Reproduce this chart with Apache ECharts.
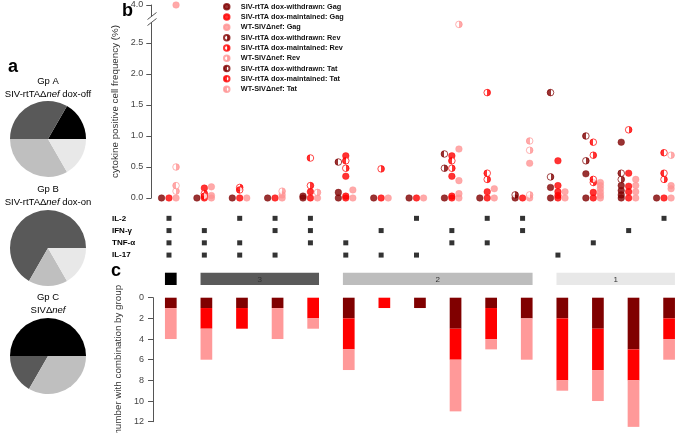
<!DOCTYPE html>
<html><head><meta charset="utf-8">
<script src="https://cdn.jsdelivr.net/npm/echarts@6/dist/echarts.min.js"></script>
<style>html,body{margin:0;padding:0;background:#fff}#c{width:685px;height:433px}</style>
</head><body><div id="c"></div>
<script>
const FONT = '"Liberation Sans", Arial, Helvetica, sans-serif';

// ---------- Panel a : pies ----------
const pieLevels = ['4 functions', '3 functions', '2 functions', '1 function'];
const pieColors = ['#000000', '#595959', '#bfbfbf', '#e8e8e8'];
const pieGpA = [1, 2, 2, 1];
const pieGpB = [0, 4, 1, 1];
const pieGpC = [3, 1, 2, 0];

// ---------- Panel b : cytokine combinations ----------
const cytokines = ['IL-2', 'IFN-γ', 'TNF-α', 'IL-17'];
const rowIL2  = [1,0,1,1,1,0,0,1,0,1,1,0,0,0,1];
const rowIFNg = [1,1,0,1,1,0,1,0,1,0,1,0,0,1,0];
const rowTNFa = [1,1,1,0,1,1,0,0,1,1,0,0,1,0,0];
const rowIL17 = [1,1,1,1,0,1,1,1,0,0,0,1,0,0,0];

// frequencies (%) per combination (15 columns)
const withdrawnGag  = [[0],[0],[0],[0],[0,0.03],[0,0.09],[0],[0],[0],[0],[0],[0,0.17],[0,0.39],[0,0.05,0.12,0.2,0.9],[0]];
const maintainedGag = [[0],[0,0.16],[0],[0],[0,0.1],[0,0.03,0.35,0.68],[0],[0],[0,0.03,0.35,0.68],[0,0.1],[0],[0,0.04,0.1,0.2,0.6],[0,0.09],[0,0.1,0.19,0.4],[0]];
const wtGag         = [[0,4.0],[0,0.04,0.18],[0],[0,0.05],[0],[0,0.13],[0],[0],[0,0.07,0.28,0.79],[0,0.15],[0,0.56],[0,0.1],[0,0.04,0.09,0.15,0.2,0.25],[0,0.1,0.2,0.3],[0,0.15,0.2]];
const withdrawnRev  = [[],[],[],[],[],[],[],[],[0.48],[],[0.05],[0.34],[0.6],[0.3],[]];
const maintainedRev = [[],[0.07],[0.17],[],[0.2],[0.48],[0.47],[],[0.48],[0.3,1.7],[],[],[0.25,0.69],[1.1],[0.3]];
const wtRev         = [[0.11,0.5],[],[],[0.11],[0.09],[],[],[],[2.8],[],[0.05,0.77],[],[],[],[0.69]];
const withdrawnTat  = [[],[],[],[],[],[0.58],[],[],[0.71],[],[],[1.7],[1.0],[0.4],[]];
const maintainedTat = [[],[0.03],[0.13],[],[0.645],[0.6],[],[],[0.6],[0.4],[],[],[0.3,0.9],[],[0.4,0.73]];
const wtTat         = [[0.2],[],[],[],[],[],[],[],[],[],[0.92],[],[],[],[]];

const yTickValues = [0, 0.5, 1, 1.5, 2, 2.5, 4.0];

// ---------- Panel c : counts ----------
const countWithdrawn  = [1,1,1,1,0,2,0,1,3,1,2,2,3,5,2];
const countMaintained = [0,2,2,0,2,3,1,0,3,3,0,6,4,3,2];
const countWT         = [3,3,0,3,1,2,0,0,5,1,4,1,3,4.5,2];
const groupLabels = ['', '3', '2', '1'];
const groupStart  = [1, 2, 6, 12];
const groupEnd    = [1, 5, 11, 15];
const groupColors = ['#000000', '#5a5a5a', '#bdbdbd', '#e8e8e8'];

// ---------- helpers ----------
const C_W = '#800000', C_M = '#ff0000', C_WT = '#ff9494';
const SUB_OFFSET = [-0.21, 0, 0.2];
// broken axis: values above the break are shifted so that 4.0 sits just above 2.85
const BREAK_AT = 3.0, BREAK_SHIFT = 0.887;
const toAxis = v => (v > BREAK_AT ? v - BREAK_SHIFT : v);
const fromAxis = v => (v > BREAK_AT ? v + BREAK_SHIFT : v);

function half(color, leftFilled) {
  const a = leftFilled ? color : '#ffffff', b = leftFilled ? '#ffffff' : color;
  return { type: 'linear', x: 0, y: 0, x2: 1, y2: 0,
    colorStops: [{offset: 0, color: a}, {offset: 0.5, color: a}, {offset: 0.5, color: b}, {offset: 1, color: b}] };
}
function pts(cols, sub) {
  const out = [];
  cols.forEach((vals, i) => vals.forEach(v => out.push([i + 1 + SUB_OFFSET[sub], toAxis(v)])));
  return out;
}
const scatterDefs = [
  ['SIV-rtTA dox-withdrawn: Gag', withdrawnGag, 0, C_W, 'full'],
  ['SIV-rtTA dox-maintained: Gag', maintainedGag, 1, C_M, 'full'],
  ['WT-SIVΔnef: Gag', wtGag, 2, C_WT, 'full'],
  ['SIV-rtTA dox-withdrawn: Rev', withdrawnRev, 0, C_W, 'rev'],
  ['SIV-rtTA dox-maintained: Rev', maintainedRev, 1, C_M, 'rev'],
  ['WT-SIVΔnef: Rev', wtRev, 2, C_WT, 'rev'],
  ['SIV-rtTA dox-withdrawn: Tat', withdrawnTat, 0, C_W, 'tat'],
  ['SIV-rtTA dox-maintained: Tat', maintainedTat, 1, C_M, 'tat'],
  ['WT-SIVΔnef: Tat', wtTat, 2, C_WT, 'tat']
];
const scatterSeries = scatterDefs.map(([name, cols, sub, color, kind]) => ({
  name, type: 'scatter', xAxisIndex: 0, yAxisIndex: 0, clip: false,
  symbol: 'circle', symbolSize: 6.6, silent: true,
  itemStyle: kind === 'full' ? { color, borderColor: color, borderWidth: 0.5 }
    : { color: half(color, kind === 'tat'), borderColor: color, borderWidth: 0.9 },
  data: pts(cols, sub)
}));

const matrixRows = [rowIL2, rowIFNg, rowTNFa, rowIL17];
const matrixData = [];
matrixRows.forEach((row, r) => row.forEach((f, i) => { if (f) matrixData.push([i + 1, r]); }));

const BAR_W = 11.7;
const cats = rowIL2.map((_, i) => 'C' + (i + 1));

const pieSeries = [[pieGpA, 139], [pieGpB, 248], [pieGpC, 356]].map(([vals, cy]) => ({
  type: 'pie', center: [48, cy], radius: 38, startAngle: 0, clockwise: false,
  label: { show: false }, labelLine: { show: false }, silent: true,
  itemStyle: { borderWidth: 0 }, emphasis: { disabled: true },
  data: vals.map((v, i) => ({ name: pieLevels[i], value: v, itemStyle: { color: pieColors[i] } })).filter(d => d.value > 0)
}));

const titleRich = {
  r: { fontSize: 9.5, color: '#333', fontFamily: FONT, lineHeight: 13 },
  i: { fontSize: 9.5, color: '#333', fontFamily: FONT, fontStyle: 'italic', lineHeight: 13 }
};
function pieTitle(y, txt) {
  return { type: 'text', z: 100, style: { x: 48, y, text: txt, rich: titleRich, align: 'center', verticalAlign: 'top' } };
}

const chart = echarts.init(document.getElementById('c'), null, { renderer: 'canvas' });
chart.setOption({
  animation: false,
  backgroundColor: '#ffffff',
  textStyle: { fontFamily: FONT },
  legend: {
    orient: 'vertical', left: 223, top: 1.6, padding: 0, itemWidth: 12.2, itemHeight: 5.5, itemGap: 0,
    selectedMode: false,
    textStyle: { fontSize: 7.3, fontWeight: 'bold', color: '#111', lineHeight: 10.3, fontFamily: FONT, padding: [0, 0, 0, 3] },
    data: scatterDefs.map(d => d[0])
  },
  grid: [
    { left: 151.3, top: 5, width: 530.4, height: 193, outerBoundsMode: 'none', containLabel: false },
    { left: 151.3, top: 212.2, width: 530.4, height: 49, outerBoundsMode: 'none', containLabel: false },
    { left: 153, top: 272.7, width: 533.9, height: 12.3, outerBoundsMode: 'none', containLabel: false },
    { left: 153, top: 297.7, width: 533.9, height: 124, outerBoundsMode: 'none', containLabel: false }
  ],
  xAxis: [
    { gridIndex: 0, type: 'value', min: 0.5, max: 15.5, show: false },
    { gridIndex: 1, type: 'value', min: 0.5, max: 15.5, show: false },
    { gridIndex: 2, type: 'category', data: cats, show: false },
    { gridIndex: 3, type: 'category', data: cats, show: false }
  ],
  yAxis: [
    { gridIndex: 0, type: 'value', min: 0, max: toAxis(4.0),
      name: 'cytokine positive cell frequency (%)', nameLocation: 'middle', nameGap: 22,
      nameTextStyle: { fontSize: 9.8, color: '#333', fontFamily: FONT },
      axisLine: { show: true, lineStyle: { color: '#555', width: 1 } },
      axisTick: { show: true, length: 5, lineStyle: { color: '#555' }, customValues: yTickValues.map(toAxis) },
      axisLabel: { fontSize: 9, color: '#444', margin: 8, fontFamily: FONT,
        customValues: yTickValues.map(toAxis), formatter: v => fromAxis(v).toFixed(1) },
      splitLine: { show: false } },
    { gridIndex: 1, type: 'category', data: cytokines, inverse: true,
      axisLine: { show: false }, axisTick: { show: false },
      axisLabel: { align: 'left', margin: 39.3, fontSize: 8, fontWeight: 'bold', color: '#000', fontFamily: FONT } },
    { gridIndex: 2, type: 'value', min: 0, max: 1, show: false },
    { gridIndex: 3, type: 'value', inverse: true, min: 0, max: 12, interval: 2,
      name: 'number with combination by group', nameLocation: 'middle', nameGap: 25,
      nameTextStyle: { fontSize: 9.8, color: '#333', fontFamily: FONT },
      axisLine: { show: true, lineStyle: { color: '#555', width: 1 } },
      axisTick: { show: true, length: 5, lineStyle: { color: '#555' } },
      axisLabel: { fontSize: 9, color: '#444', margin: 9, fontFamily: FONT },
      splitLine: { show: false } }
  ],
  series: [
    ...pieSeries,
    ...scatterSeries,
    { type: 'scatter', xAxisIndex: 1, yAxisIndex: 1, symbol: 'rect', symbolSize: 5, silent: true,
      itemStyle: { color: '#000' }, data: matrixData },
    { type: 'custom', xAxisIndex: 2, yAxisIndex: 2, silent: true,
      data: groupStart.map((s, i) => [s - 1, groupEnd[i] - 1]),
      renderItem: (params, api) => {
        const s = api.coord([api.value(0), 0]);
        const e = api.coord([api.value(1), 0]);
        const cs = params.coordSys;
        const i = params.dataIndex;
        return { type: 'group', children: [
          { type: 'rect', shape: { x: s[0] - BAR_W / 2, y: cs.y, width: e[0] - s[0] + BAR_W, height: cs.height },
            style: { fill: groupColors[i] } },
          { type: 'text', style: { text: groupLabels[i], x: (s[0] + e[0]) / 2, y: cs.y + cs.height / 2 + 0.5,
            align: 'center', verticalAlign: 'middle', fontSize: 8, fill: '#333', fontFamily: FONT } }
        ] };
      } },
    { type: 'bar', xAxisIndex: 3, yAxisIndex: 3, stack: 'n', barWidth: BAR_W, clip: false, silent: true,
      itemStyle: { color: C_W }, data: countWithdrawn },
    { type: 'bar', xAxisIndex: 3, yAxisIndex: 3, stack: 'n', barWidth: BAR_W, clip: false, silent: true,
      itemStyle: { color: C_M }, data: countMaintained },
    { type: 'bar', xAxisIndex: 3, yAxisIndex: 3, stack: 'n', barWidth: BAR_W, clip: false, silent: true,
      itemStyle: { color: '#ff9999' }, data: countWT }
  ],
  graphic: [
    { type: 'text', z: 100, style: { x: 8, y: 58, text: 'a', fontSize: 18, fontWeight: 'bold', fill: '#000', fontFamily: FONT } },
    { type: 'text', z: 100, style: { x: 122, y: 2, text: 'b', fontSize: 18, fontWeight: 'bold', fill: '#000', fontFamily: FONT } },
    { type: 'text', z: 100, style: { x: 111, y: 262, text: 'c', fontSize: 18, fontWeight: 'bold', fill: '#000', fontFamily: FONT } },
    pieTitle(75, '{r|Gp A}\n{r|SIV-rtTAΔ}{i|nef}{r| dox-off}'),
    pieTitle(183, '{r|Gp B}\n{r|SIV-rtTAΔ}{i|nef}{r| dox-on}'),
    pieTitle(291, '{r|Gp C}\n{r|SIVΔ}{i|nef}'),
    { type: 'rect', z: 100, shape: { x: 148.5, y: 16.6, width: 6, height: 5.6 }, style: { fill: '#fff' } },
    { type: 'line', z: 101, shape: { x1: 147.5, y1: 19.5, x2: 156.5, y2: 12.5 }, style: { stroke: '#555', lineWidth: 1 } },
    { type: 'line', z: 101, shape: { x1: 147.5, y1: 25.5, x2: 156.5, y2: 18.5 }, style: { stroke: '#555', lineWidth: 1 } }
  ]
});
</script></body></html>
